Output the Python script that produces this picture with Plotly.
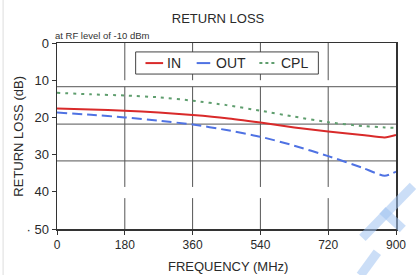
import plotly.graph_objects as go

# ---- data ----
freq_mhz = [0, 90, 180, 270, 360, 450, 540, 630, 720, 810, 870, 900]
rl_in = [17.6, 17.9, 18.2, 18.7, 19.35, 20.2, 21.4, 22.7, 23.8, 24.7, 25.4, 24.7]
rl_out = [18.7, 19.3, 20.0, 20.9, 21.9, 23.4, 25.2, 27.6, 30.4, 33.5, 35.7, 34.6]
rl_cpl = [13.4, 13.8, 14.1, 14.6, 15.5, 16.7, 18.2, 19.8, 21.3, 22.3, 22.7, 22.8]

series_names = ["IN", "OUT", "CPL"]
series_colors = ["#d92a2a", "#4f72e3", "#5f9e6e"]
series_dash = ["solid", "10px,5px", "3px,5px"]

x_ticks = [0, 180, 360, 540, 720, 900]
y_ticks = [0, 10, 20, 30, 40, 50]
y_ticktext = ["0", "10", "20", "30", "40", "· 50"]

# gridline positions as seen in the reference (offset from the ticks)
h_grid = [11.75, 21.8, 31.7]
v_grid = [180, 360, 540, 720]
v_grid_segments = [(0, 10), (11.75, 38.7), (41.7, 50)]

FONT = "Liberation Sans, Arial, sans-serif"
TXT = "#2a2a2a"

fig = go.Figure()
for name, ys, col, dash in zip(series_names, [rl_in, rl_out, rl_cpl], series_colors, series_dash):
    fig.add_trace(go.Scatter(x=freq_mhz, y=ys, name=name, mode="lines", showlegend=False,
                             hoverinfo="skip",
                             line=dict(color=col, width=2, dash=dash, shape="spline", smoothing=0.6)))

shapes = []
for g in h_grid:
    shapes.append(dict(type="line", xref="x", yref="y", x0=0, x1=900, y0=g, y1=g,
                       line=dict(color="#555555", width=1), layer="below"))
for v in v_grid:
    for a, b in v_grid_segments:
        shapes.append(dict(type="line", xref="x", yref="y", x0=v, x1=v, y0=a, y1=b,
                           line=dict(color="#555555", width=1), layer="below"))
# left image border line
shapes.append(dict(type="line", xref="paper", yref="paper", x0=-0.159, x1=-0.159, y0=-0.25, y1=1.25,
                   line=dict(color="#dddddd", width=1)))
# faint watermark strokes (bottom right)
wm = "rgba(160,195,240,0.55)"
shapes.append(dict(type="line", xref="paper", yref="paper", x0=0.901, y0=-0.048, x1=1.05, y1=0.232,
                   line=dict(color=wm, width=9)))
shapes.append(dict(type="line", xref="paper", yref="paper", x0=0.96, y0=0.10, x1=1.02, y1=0.0,
                   line=dict(color=wm, width=9)))
shapes.append(dict(type="line", xref="paper", yref="paper", x0=0.895, y0=-0.25, x1=0.945, y1=-0.125,
                   line=dict(color=wm, width=9)))

# manual legend box
shapes.append(dict(type="rect", xref="paper", yref="paper", x0=0.232, x1=0.771, y0=0.833, y1=0.952,
                   fillcolor="white", line=dict(color="#444444", width=1), layer="above"))
leg_line_x = [(0.261, 0.313), (0.412, 0.452), (0.597, 0.646)]
leg_text_x = [0.319, 0.464, 0.655]
leg_y = 0.892
leg_dash = ["solid", "solid", "dot"]
annotations = []
for (lx0, lx1), tx, name, col, dash in zip(leg_line_x, leg_text_x, series_names, series_colors, leg_dash):
    shapes.append(dict(type="line", xref="paper", yref="paper", x0=lx0, x1=lx1, y0=leg_y, y1=leg_y,
                       line=dict(color=col, width=2, dash=dash), layer="above"))
    annotations.append(dict(text=name, xref="paper", yref="paper", x=tx, y=leg_y,
                            xanchor="left", yanchor="middle", showarrow=False,
                            font=dict(size=14, color=TXT)))

annotations += [
    dict(text="at RF level of -10 dBm", xref="paper", yref="paper", x=-0.012, y=1.038,
         xanchor="left", yanchor="middle", showarrow=False,
         font=dict(family="Liberation Sans Narrow, Arial Narrow, sans-serif", size=9.5, color="#333")),
    dict(text="RETURN LOSS (dB)", xref="paper", yref="paper", x=-0.116, y=0.5,
         xanchor="center", yanchor="middle", textangle=-90, showarrow=False,
         font=dict(size=13, color=TXT)),
    dict(text="FREQUENCY (MHz)", xref="paper", yref="paper", x=0.504, y=-0.204,
         xanchor="center", yanchor="middle", showarrow=False,
         font=dict(size=13, color=TXT)),
]

fig.update_layout(
    width=418, height=275,
    margin=dict(l=57, r=16, t=43, b=46),
    paper_bgcolor="white", plot_bgcolor="white",
    font=dict(family=FONT, color=TXT, size=12),
    title=dict(text="RETURN LOSS", x=218 / 418, xanchor="center",
               y=1 - 18 / 275, yanchor="middle", font=dict(size=13, color=TXT)),
    showlegend=False,
    hovermode=False,
    shapes=shapes,
    annotations=annotations,
    xaxis=dict(range=[0, 900], tickvals=x_ticks, ticktext=[str(t) for t in x_ticks],
               showgrid=False, zeroline=False, showline=True, mirror=True,
               linecolor="#333333", linewidth=1.5, ticks="outside", ticklen=4,
               tickcolor="#333333", tickfont=dict(size=12, color=TXT)),
    yaxis=dict(range=[50, 0], tickvals=y_ticks, ticktext=y_ticktext,
               showgrid=False, zeroline=False, showline=True, mirror=True,
               linecolor="#333333", linewidth=1.5, ticks="outside", ticklen=4,
               tickcolor="#333333", tickfont=dict(size=13, color=TXT)),
)

fig.write_html("out.html", include_plotlyjs=True,
               config={"displayModeBar": False, "staticPlot": True},
               post_script="document.body.style.margin='0';document.body.style.overflow='hidden';")
